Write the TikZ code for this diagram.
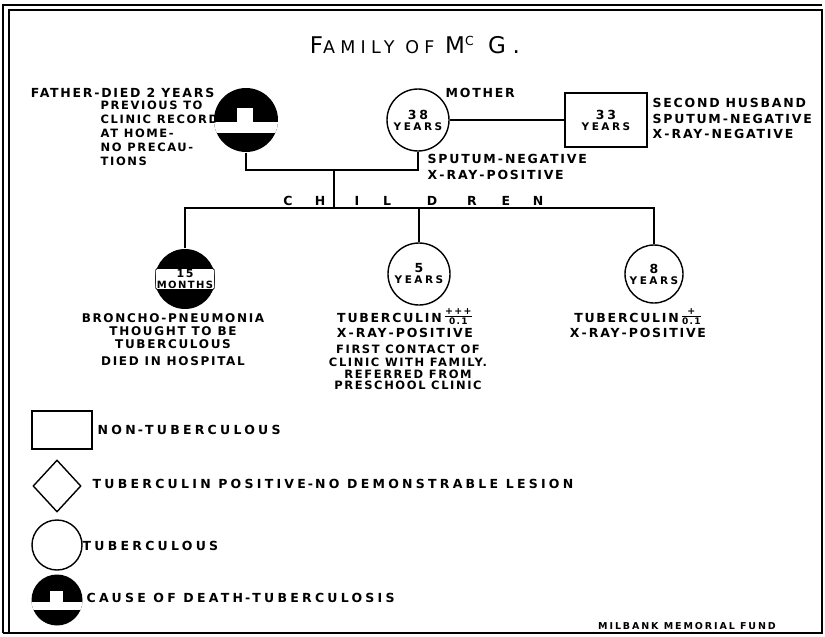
\documentclass[tikz,border=0pt]{standalone}
\usepackage{fontspec}
\setmainfont{DejaVu Sans}[LetterSpace=14]
\newfontfamily\titlefont{DejaVu Sans}[LetterSpace=30]
\usetikzlibrary{shapes.geometric,calc}
\newcommand\notefont{\bfseries\fontsize{12.5}{15}\selectfont}
\newcommand\keyfont{\bfseries\fontsize{12.5}{15}\selectfont\addfontfeatures{LetterSpace=26}}
\newcommand\agefont{\bfseries\fontsize{10.5}{11}\selectfont\addfontfeatures{LetterSpace=24}}
\newcommand\agenum{\fontsize{12.5}{12}\selectfont}
\newcommand\dash{\,-\,}
\newcommand\tbfrac[2]{\,\raisebox{3.5pt}{$\hbox{\fontsize{9.5}{9}\selectfont #1}\above 1.2pt\hbox{\fontsize{9}{9}\selectfont #2}$}}
\tikzset{
  person/.style={circle,draw,line width=1.4pt,minimum size=62pt,inner sep=0pt,
    font=\agefont,align=center},
  mate/.style={rectangle,draw,line width=1.4pt,minimum width=82pt,
    minimum height=54pt,font=\agefont,align=center},
  deceased/.style={circle,fill=black,minimum size=#1,inner sep=0pt,
    path picture={
      \fill[white] let \p1=(path picture bounding box.center),
        \p2=(path picture bounding box.east), \n1={\x2-\x1} in
        (\x1-\n1,\y1-0.06*\n1) rectangle (\x1+\n1,\y1-0.4*\n1);
      \fill[white] let \p1=(path picture bounding box.center),
        \p2=(path picture bounding box.east), \n1={\x2-\x1} in
        (\x1-0.28*\n1,\y1-0.12*\n1) rectangle (\x1+0.22*\n1,\y1+0.37*\n1);
    }},
  lost child/.style={circle,fill=black,minimum size=60pt,inner sep=0pt},
  monthsbox/.style={fill=white,draw,line width=0.6pt,rounded corners=1.5pt,
    inner sep=1.2pt,font=\bfseries\fontsize{10}{10.5}\selectfont,align=center},
  note/.style={font=\notefont,inner sep=0pt,align=left},
  keynote/.style={font=\keyfont,inner sep=0pt,anchor=west},
  keybox/.style={rectangle,draw,line width=1.4pt,minimum width=60pt,minimum height=38pt},
  keydiamond/.style={diamond,draw,line width=1.4pt,minimum width=48pt,
    minimum height=52pt,inner sep=0pt}
}

\begin{document}
\begin{tikzpicture}[x=1pt,y=-1pt,line width=1.4pt]
  \useasboundingbox (0,0) rectangle (825,637);
  % frame
  \draw[line width=1.2pt] (3,633) -- (3,5) -- (822,5);
  \draw[line width=1.2pt] (9,633) -- (9,10) -- (822,10) -- (822,633) -- (3,633);
  \node[font=\titlefont] (title) at (415,45)
    {\fontsize{23}{23}\selectfont F\fontsize{17.5}{17}\selectfont AMILY OF
     \fontsize{23}{23}\selectfont M\raisebox{7.5pt}{\fontsize{12.5}{12}\selectfont C} G.};

  % parents
  \node[deceased=64pt] (father) at (246,120) {};
  \node[person] (mother) at (418,120) {{\agenum 38}\\YEARS};
  \node[mate] (husband) at (606,120) {{\agenum 33}\\YEARS};
  \node[note,anchor=east] (fathernote) at (215,93) {FATHER-DIED 2 YEARS};
  \node[note,anchor=north west,font=\bfseries\fontsize{11.5}{14}\selectfont]
    (fatherdetail) at (100,100)
    {PREVIOUS TO\\CLINIC RECORD\\AT HOME-\\NO PRECAU-\\TIONS};
  \node[note,anchor=west] (mothernote) at (445,93) {MOTHER};
  \node[note,anchor=north west] (mothertests) at (427,154)
    {SPUTUM\dash NEGATIVE\\[1pt]X\dash RAY\dash POSITIVE};
  \node[note,anchor=north west] (husbandnote) at (652,98)
    {SECOND HUSBAND\\[0.5pt]SPUTUM\dash NEGATIVE\\[0.5pt]X\dash RAY\dash NEGATIVE};

  % children
  \node[lost child] (kid1) at (185,279) {};
  \node[monthsbox] (kid1age) at (kid1) {{\fontsize{11}{11}\selectfont 15}\\MONTHS};
  \node[person] (kid2) at (419,274) {{\agenum 5}\\YEARS};
  \node[person,minimum size=58pt] (kid3) at (654,274) {{\agenum 8}\\YEARS};
  \foreach \ch/\x in {C/288,H/320,I/357,L/387,D/432,R/472,E/506,N/538}
    \node[note] (ch\ch) at (\x,201) {\ch};
  \node[note,align=center,anchor=north,font=\bfseries\fontsize{12}{15}\selectfont]
    (kid1note) at (173,313)
    {BRONCHO-PNEUMONIA\\[-2.5pt]THOUGHT TO BE\\[-2pt]TUBERCULOUS\\[2pt]DIED IN HOSPITAL};
  \node[note,align=center,anchor=north] (kid2note) at (405,308)
    {TUBERCULIN\tbfrac{+++}{0.1}\\[-0.5pt]X\dash RAY\dash POSITIVE};
  \node[note,align=center,anchor=north,font=\bfseries\fontsize{11.5}{11.5}\selectfont]
    (kid2history) at (408,344)
    {FIRST CONTACT OF\\[2pt]CLINIC WITH FAMILY.\\REFERRED FROM\\PRESCHOOL CLINIC};
  \node[note,align=center,anchor=north] (kid3note) at (638,308)
    {TUBERCULIN\tbfrac{+}{0.1}\\[-0.5pt]X\dash RAY\dash POSITIVE};

  % lines of descent
  \coordinate (union) at (334,170);
  \coordinate (sibs) at (334,208);
  \draw (father.south) -- (father.south |- union) -- (mother.south |- union) -- (mother.south);
  \draw (mother) -- (husband);
  \draw (union) -- (sibs);
  \draw (kid1.north) -- (kid1.north |- sibs) -- (kid3.north |- sibs) -- (kid3.north);
  \draw (kid2.north) -- (kid2.north |- sibs);

  % key
  \node[keybox] (keynon) at (62,430) {};
  \node[keynote] (keynontext) at (97,430) {NON\dash TUBERCULOUS};
  \node[keydiamond] (keypos) at (57,486) {};
  \node[keynote] (keypostext) at (92,484) {TUBERCULIN POSITIVE\dash NO DEMONSTRABLE LESION};
  \node[person,minimum size=50pt] (keytb) at (57,545) {};
  \node[keynote] (keytbtext) at (82,546) {TUBERCULOUS};
  \node[deceased=51pt] (keydead) at (57,600) {};
  \node[keynote] (keydeadtext) at (86,598) {CAUSE OF DEATH\dash TUBERCULOSIS};
  \node[font=\bfseries\fontsize{9.5}{10}\selectfont\addfontfeatures{LetterSpace=20}]
    (credit) at (687,626) {MILBANK MEMORIAL FUND};
\end{tikzpicture}
\end{document}
